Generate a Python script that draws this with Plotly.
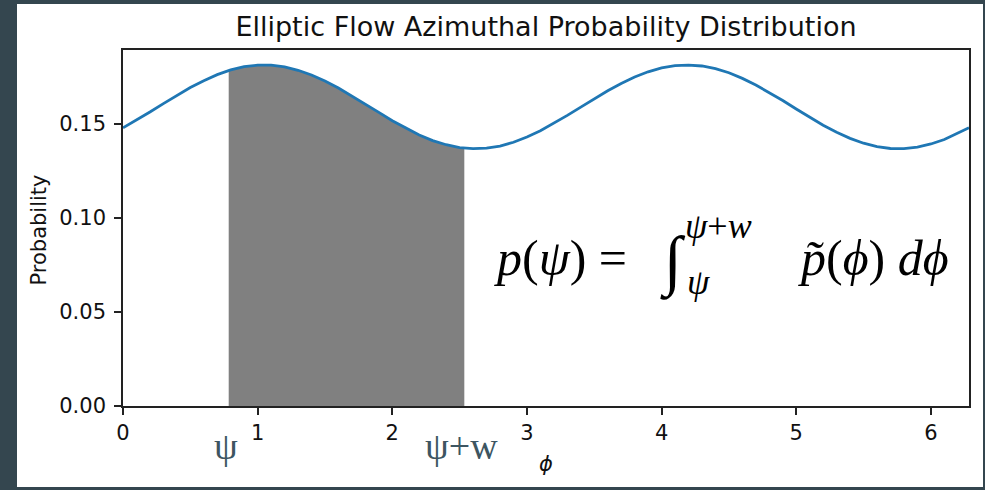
import plotly.graph_objects as go

# Azimuthal angle grid (rad) and the probability density
phi = [round(0.1 * k, 1) for k in range(63)] + [6.2832]
prob = [
    0.1480, 0.1521, 0.1564, 0.1609, 0.1652, 0.1694, 0.1731, 0.1763, 0.1788, 0.1805,
    0.1813, 0.1813, 0.1804, 0.1786, 0.1761, 0.1729, 0.1692, 0.1650, 0.1606, 0.1562,
    0.1518, 0.1478, 0.1442, 0.1412, 0.1390, 0.1375, 0.1369, 0.1372, 0.1383, 0.1403,
    0.1431, 0.1464, 0.1503, 0.1546, 0.1590, 0.1634, 0.1677, 0.1716, 0.1750, 0.1778,
    0.1799, 0.1811, 0.1814, 0.1809, 0.1795, 0.1773, 0.1743, 0.1708, 0.1668, 0.1625,
    0.1580, 0.1536, 0.1494, 0.1456, 0.1424, 0.1398, 0.1380, 0.1370, 0.1369, 0.1377,
    0.1394, 0.1418, 0.1450, 0.1480,
]

# Integration window [psi, psi + w] and the density at its two edges
psi = 0.785
psi_w = 2.535
prob_at_psi = 0.1784
prob_at_psi_w = 0.1372

x_ticks = [0, 1, 2, 3, 4, 5, 6]
y_ticks = [0.00, 0.05, 0.10, 0.15]

# Shaded window: edges plus the curve samples that fall inside it
fill_x = [psi] + [p for p in phi if psi < p < psi_w] + [psi_w]
fill_y = [prob_at_psi] + [v for p, v in zip(phi, prob) if psi < p < psi_w] + [prob_at_psi_w]

BORDER = "#34464f"
SLATE = "#3d5561"
AXIS_FONT = dict(family="DejaVu Sans", size=21, color="#111111")
MATH = "Liberation Serif"
NB = "\u00a0"

fig = go.Figure()
fig.add_trace(go.Scatter(
    x=fill_x, y=fill_y, mode="lines", fill="tozeroy",
    line=dict(width=0, color="#808080"), fillcolor="#808080",
    hoverinfo="skip", showlegend=False,
))
fig.add_trace(go.Scatter(
    x=phi, y=prob, mode="lines",
    line=dict(color="#1f77b4", width=2.8),
    showlegend=False,
))

# Plot area spans x 123..969 px and y 50..406 px
L, R, T, B = 123, 969, 50, 406
W, H = 985, 490


def px(x):
    return (x - L) / (R - L)


def py(y):
    return (B - y) / (B - T)


axis_common = dict(
    showline=True, mirror=True, linecolor="#222222", linewidth=1.6,
    ticks="outside", ticklen=7, tickwidth=1.5, tickcolor="#222222",
    showgrid=False, zeroline=False, tickfont=AXIS_FONT,
)

fig.update_layout(
    width=W, height=H,
    margin=dict(l=L, r=W - R, t=T, b=H - B),
    paper_bgcolor=BORDER,
    plot_bgcolor="white",
    xaxis=dict(range=[0, 6.2832], tickvals=x_ticks, ticktext=[str(t) for t in x_ticks],
               **axis_common),
    yaxis=dict(range=[0, 0.1894], tickvals=y_ticks,
               ticktext=[f"{t:.2f}" for t in y_ticks], ticklabelstandoff=4,
               **axis_common),
    title=dict(text="Elliptic Flow Azimuthal Probability Distribution",
               x=0.5, xref="paper", xanchor="center",
               y=1 - 27 / H, yref="container", yanchor="middle",
               font=dict(family="DejaVu Sans", size=27, color="#111111")),
    shapes=[dict(type="rect", xref="paper", yref="paper", layer="below",
                 x0=px(17), x1=px(983), y0=py(487), y1=py(4),
                 fillcolor="white", line=dict(width=0))],
)

annotations = [
    # axis labels
    dict(text="Probability", x=px(38.5), y=py(230), textangle=-90,
         font=dict(family="DejaVu Sans", size=21, color="#111111")),
    dict(text="<i>ϕ</i>", x=px(546), y=py(464),
         font=dict(family="DejaVu Sans", size=21, color="#111111")),
    # window markers under the axis
    dict(text="ψ", x=psi - 0.02, xref="x", y=py(446),
         font=dict(family=MATH, size=38, color=SLATE)),
    dict(text="ψ+w", x=psi_w - 0.02, xref="x", y=py(446),
         font=dict(family=MATH, size=38, color=SLATE)),
    # p(psi) = integral from psi to psi+w of p~(phi) dphi
    dict(text=f"<i>p</i>(<i>ψ</i>){NB}={NB}", x=px(492), y=py(258), xanchor="left",
         font=dict(family=MATH, size=50, color="black")),
    dict(text="∫", x=px(673), y=py(261),
         font=dict(family=MATH, size=66, color="black")),
    dict(text="<i>ψ</i>+<i>w</i>", x=px(683), y=py(226), xanchor="left",
         font=dict(family=MATH, size=36, color="black")),
    dict(text="<i>ψ</i>", x=px(685), y=py(282), xanchor="left",
         font=dict(family=MATH, size=36, color="black")),
    dict(text=f"<i>p̃</i>(<i>ϕ</i>){NB}<i>dϕ</i>", x=px(951), y=py(258), xanchor="right",
         font=dict(family=MATH, size=50, color="black")),
]
for a in annotations:
    a.setdefault("xref", "paper")
    a.setdefault("yref", "paper")
    a.setdefault("xanchor", "center")
    a.setdefault("yanchor", "middle")
    a["showarrow"] = False
    fig.add_annotation(**a)

fig.write_html("out.html")
